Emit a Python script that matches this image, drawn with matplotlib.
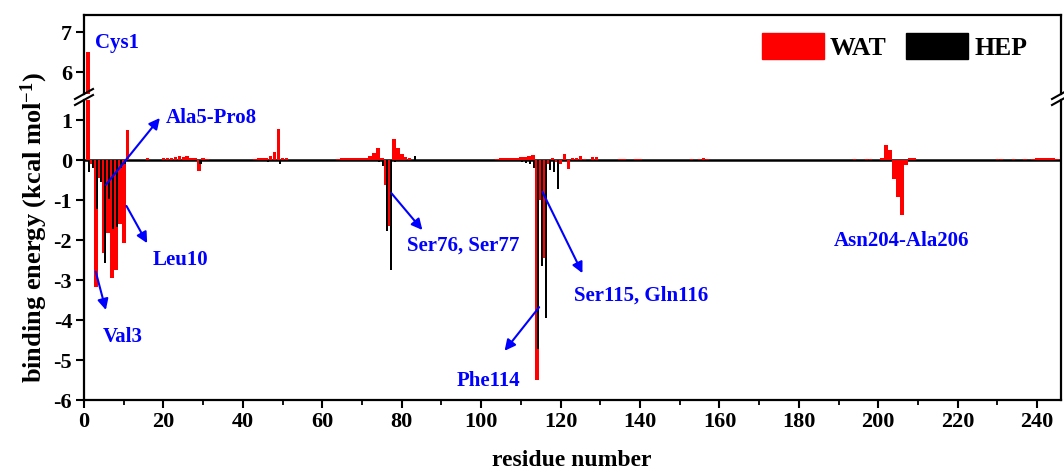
"""Per-residue binding energy decomposition, WAT vs HEP, with broken y axis."""
import numpy as np
import matplotlib
matplotlib.use("Agg")
import matplotlib.pyplot as plt
from matplotlib.lines import Line2D
from matplotlib.patches import Patch

plt.rcParams['font.family'] = ['Liberation Serif', 'DejaVu Serif']
plt.rcParams['font.weight'] = 'bold'
plt.rcParams['mathtext.fontset'] = 'custom'
plt.rcParams['mathtext.rm'] = 'Liberation Serif:bold'
plt.rcParams['mathtext.bf'] = 'Liberation Serif:bold'
plt.rcParams['mathtext.default'] = 'bf'
plt.rcParams['axes.unicode_minus'] = False

W, H = 1064, 475

# WAT (red) residue numbers and energies (kcal/mol)
WAT_RES = [1, 2, 3, 4, 5, 6, 7, 8, 9, 10, 11, 16,
           20, 21, 22, 23, 24, 25, 26, 27, 28, 29, 30, 31,
           43, 44, 45, 46, 47, 48, 49, 50, 51,
           64, 65, 66, 67, 68, 69, 70, 71, 72, 73, 74, 75, 76, 77, 78, 79,
           80, 81, 82,
           104, 105, 106, 107, 108, 109, 110, 111, 112, 113, 114, 115, 116,
           117, 118, 119, 120, 121, 122, 123, 124, 125, 126, 128, 129,
           135, 136, 139, 140, 153, 155, 156, 157,
           194, 197, 198, 201, 202, 203, 204, 205, 206, 207, 208, 209,
           230, 231, 234, 237, 239, 240, 241, 242, 243, 244, 245]
WAT_VAL = [6.5, -0.1, -3.17, -0.45, -2.33, -1.83, -2.95, -2.75, -1.6, -2.08,
           0.75, 0.04,
           0.04, 0.05, 0.06, 0.07, 0.09, 0.08, 0.09, 0.06, 0.05, -0.27, 0.04,
           0.03,
           0.03, 0.04, 0.04, 0.06, 0.1, 0.2, 0.78, 0.06, 0.04,
           0.03, 0.04, 0.04, 0.05, 0.05, 0.04, 0.05, 0.06, 0.1, 0.17, 0.3,
           0.05, -0.63, -1.65, 0.52, 0.3, 0.15, 0.08, 0.04,
           0.03, 0.04, 0.04, 0.05, 0.05, 0.06, 0.08, 0.07, 0.1, 0.12, -5.5,
           -1.0, -2.44, -0.1, 0.05, -0.05, -0.1, 0.14, -0.22, 0.05, 0.04,
           0.1, 0.03, 0.08, 0.08,
           0.03, 0.03, 0.03, 0.03, 0.03, 0.03, 0.04, 0.03,
           0.03, 0.03, 0.03, 0.04, 0.37, 0.25, -0.48, -0.92, -1.37, -0.12,
           0.06, 0.04,
           0.03, 0.03, 0.03, 0.03, 0.03, 0.04, 0.05, 0.04, 0.04, 0.05, 0.03]

# HEP (black) residue numbers and energies (kcal/mol)
HEP_RES = [1, 2, 3, 4, 5, 6, 7, 8, 9, 10, 29, 46, 49,
           74, 75, 76, 77, 78, 83,
           108, 110, 111, 112, 113, 114, 115, 116, 117, 118, 119]
HEP_VAL = [-0.3, -0.2, -1.22, -0.55, -2.58, -0.98, -1.73, -1.68, -0.2, -0.1,
           -0.1, -0.05, -0.1,
           -0.05, -0.15, -1.77, -2.75, -0.05, 0.1,
           -0.03, -0.05, -0.07, -0.1, -0.2, -4.72, -2.65, -3.95, -0.25, -0.3,
           -0.72]

X_TICKS = np.arange(0, 241, 20)
Y_TICKS_TOP = [6, 7]
Y_TICKS_BOT = [-6, -5, -4, -3, -2, -1, 0, 1]

# annotation: text, text position, arrow tail, arrow tip (bottom-axis data)
ANNOTATIONS = [
    ("Ala5-Pro8", (20.6, 1.05), (5.5, -0.62), (19.1, 1.05)),
    ("Leu10", (17.3, -2.5), (10.7, -1.15), (15.9, -2.08)),
    ("Val3", (4.8, -4.42), (2.95, -2.79), (5.5, -3.75)),
    ("Ser76, Ser77", (81.3, -2.15), (77.4, -0.83), (85.2, -1.75)),
    ("Ser115, Gln116", (123.3, -3.4), (115.4, -0.79), (125.5, -2.83)),
    ("Phe114", (93.9, -5.52), (114.6, -3.68), (105.9, -4.77)),
    ("Asn204-Ala206", (188.8, -2.03), None, None),
]


def fig_rect(left, top, right, bottom):
    """Pixel box -> figure fraction rectangle."""
    return [left / W, 1 - bottom / H, (right - left) / W, (bottom - top) / H]


def draw_bars(ax):
    ax.bar(np.array(WAT_RES), WAT_VAL, width=0.9, color="#ff0000",
           linewidth=0, zorder=2)
    ax.bar(np.array(HEP_RES) + 0.33, HEP_VAL, width=0.55, color="black",
           linewidth=0, zorder=3)


def style_axis(ax):
    for s in ax.spines.values():
        s.set_linewidth(1.6)
    ax.tick_params(axis="both", which="major", direction="out", length=6,
                   width=1.5, labelsize=16, pad=2.5)
    ax.tick_params(axis="both", which="minor", direction="out", length=3.5,
                   width=1.3)
    ax.set_xlim(0, 246)


def break_marks(fig):
    for xp in (84, 1061):
        for yp in (94, 100):
            line = Line2D([(xp - 9) / W, (xp + 9) / W],
                          [1 - (yp + 5) / H, 1 - (yp - 5) / H],
                          transform=fig.transFigure, color="black", lw=1.5)
            fig.add_artist(line)


def main():
    fig = plt.figure(figsize=(W / 100, H / 100), dpi=100)
    ax_top = fig.add_axes(fig_rect(84, 15, 1061, 94))
    ax_bot = fig.add_axes(fig_rect(84, 100, 1061, 400))

    for ax in (ax_top, ax_bot):
        draw_bars(ax)
        style_axis(ax)

    ax_top.set_ylim(7.43 - 79 / 40, 7.43)
    ax_bot.set_ylim(-6, 1.5)
    ax_top.set_yticks(Y_TICKS_TOP)
    ax_bot.set_yticks(Y_TICKS_BOT)
    ax_top.spines["bottom"].set_visible(False)
    ax_bot.spines["top"].set_visible(False)
    ax_top.tick_params(axis="x", which="both", bottom=False, labelbottom=False)
    ax_bot.set_xticks(X_TICKS)
    ax_bot.set_xticks(np.arange(10, 246, 20), minor=True)
    ax_bot.axhline(0, color="black", lw=1.8, zorder=1)

    break_marks(fig)

    ax_top.text(2.8, 6.72, "Cys1", color="blue", fontsize=15, ha="left",
                va="center", fontweight="bold")
    for text, tpos, tail, tip in ANNOTATIONS:
        ax_bot.text(tpos[0], tpos[1], text, color="blue", fontsize=15,
                    ha="left", va="center", fontweight="bold", zorder=5)
        if tail is not None:
            ax_bot.annotate("", xy=tip, xytext=tail, zorder=6,
                            arrowprops=dict(arrowstyle="-|>", color="blue",
                                            lw=1.5, mutation_scale=16,
                                            shrinkA=0, shrinkB=0))

    handles = [Patch(color="#ff0000", label="WAT"),
               Patch(color="black", label="HEP")]
    ax_top.legend(handles=handles, loc="upper left", ncol=2, frameon=False,
                  bbox_to_anchor=(762 / W, 1 - 33 / H),
                  bbox_transform=fig.transFigure, borderaxespad=0,
                  borderpad=0, handlelength=2.4, handleheight=1.2,
                  handletextpad=0.25, columnspacing=0.75,
                  prop={"size": 18.5, "weight": "bold"})

    fig.text(34 / W, 1 - 228 / H, "binding energy (kcal mol$^{-1}$)",
             rotation=90, ha="center", va="center", fontsize=19)
    fig.text(572 / W, 1 - 460 / H, "residue number", ha="center",
             va="center", fontsize=17)

    fig.savefig("out.png", dpi=100)
    plt.close(fig)


if __name__ == "__main__":
    main()
